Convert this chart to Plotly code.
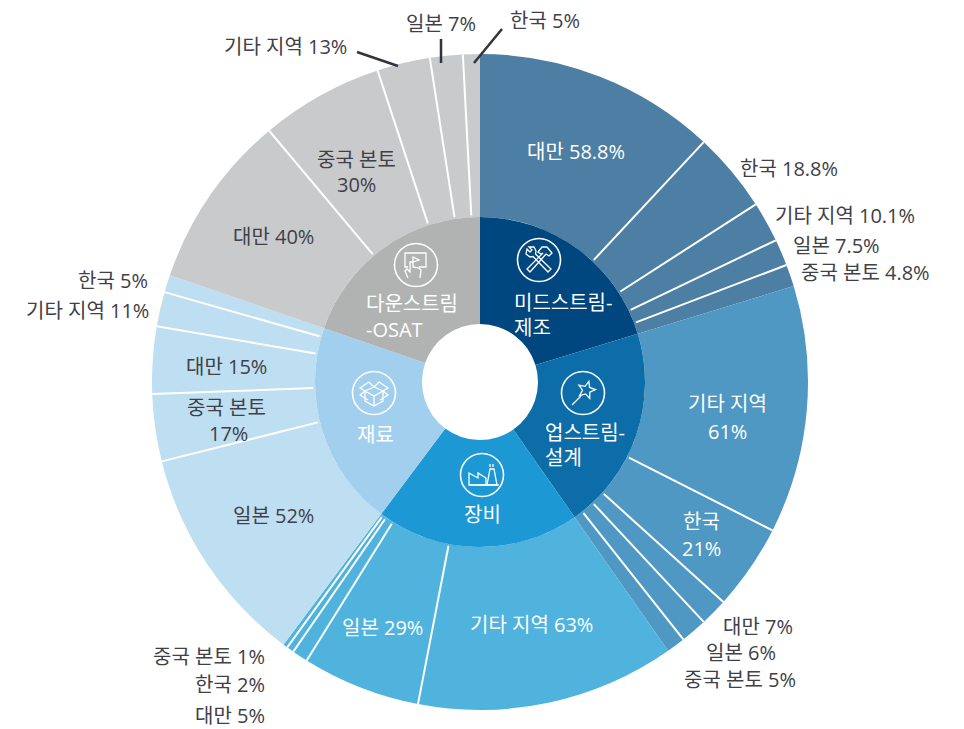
import math
import plotly.graph_objects as go

W, H = 964, 729
CX, CY = 480, 382
R_OUT, R_MID, R_HOLE = 328, 165, 58

# ---- data ----
groups = ["미드스트림-제조", "업스트림-설계", "장비", "재료", "다운스트림-OSAT"]
group_colors = ["#00467F", "#0D6DA9", "#1C98D4", "#A3CFEE", "#B1B3B3"]
ring_colors = ["#4D7EA3", "#4F98C3", "#4FB3DD", "#BEDEF2", "#C9CACC"]

# slice labels, and each slice's size (degrees of arc)
mid_labels = ["대만 58.8%", "한국 18.8%", "기타 지역 10.1%", "일본 7.5%", "중국 본토 4.8%"]
mid_arcs = [43.0, 14.2, 7.2, 4.7, 3.9]
up_labels = ["기타 지역 61%", "한국 21%", "대만 7%", "일본 6%", "중국 본토 5%"]
up_arcs = [43.9, 15.2, 4.9, 4.7, 3.3]
eq_labels = ["기타 지역 63%", "일본 29%", "대만 5%", "한국 2%", "중국 본토 1%"]
eq_arcs = [45.9, 21.0, 2.8, 1.3, 0.8]
mat_labels = ["일본 52%", "중국 본토 17%", "대만 15%", "기타 지역 11%", "한국 5%"]
mat_arcs = [39.2, 11.9, 11.9, 6.1, 3.1]
down_labels = ["대만 40%", "중국 본토 30%", "기타 지역 13%", "일본 7%", "한국 5%"]
down_arcs = [31.0, 21.8, 9.4, 5.8, 3.0]

all_arcs = [mid_arcs, up_arcs, eq_arcs, mat_arcs, down_arcs]
all_labels = [mid_labels, up_labels, eq_labels, mat_labels, down_labels]

# text, centre x, centre y, colour
DARK = "#404048"
WHITE = "#FFFFFF"
ring_text = [
    ("대만 58.8%", 576, 152, WHITE), ("한국 18.8%", 789, 168, DARK),
    ("기타 지역 10.1%", 845, 215, DARK), ("일본 7.5%", 836, 245, DARK),
    ("중국 본토 4.8%", 865, 273, DARK),
    ("기타 지역", 727, 404, WHITE), ("61%", 727, 431, WHITE),
    ("한국", 701, 521, WHITE), ("21%", 701, 548, WHITE),
    ("대만 7%", 758, 626, DARK), ("일본 6%", 741, 652, DARK), ("중국 본토 5%", 740, 679, DARK),
    ("기타 지역 63%", 531, 624, WHITE), ("일본 29%", 382, 627, WHITE),
    ("중국 본토 1%", 209, 656, DARK), ("한국 2%", 230, 684, DARK), ("대만 5%", 230, 715, DARK),
    ("일본 52%", 273, 515, DARK), ("중국 본토", 226, 407, DARK), ("17%", 228, 433, DARK),
    ("대만 15%", 226, 366, DARK), ("기타 지역 11%", 87, 310, DARK), ("한국 5%", 113, 280, DARK),
    ("대만 40%", 273, 237, DARK), ("중국 본토", 356, 159, DARK), ("30%", 356, 184, DARK),
    ("기타 지역 13%", 285, 47, DARK), ("일본 7%", 441, 23, DARK), ("한국 5%", 545, 20, DARK),
]
centre_text = [
    ("미드스트림-", 512, 302, "left"), ("제조", 512, 327, "left"),
    ("업스트림-", 543, 432, "left"), ("설계", 543, 457, "left"),
    ("장비", 482, 514, "center"), ("재료", 375, 434, "center"),
    ("다운스트림", 364, 304, "left"), ("-OSAT", 364, 330, "left"),
]
leaders = [((357, 52), (398, 66)), ((441, 39), (441, 63)), ((502, 29), (474, 63))]
icon_centres = [(539, 260), (583, 393), (482, 475), (374, 393), (416, 265)]


def px(x):
    return x / W


def py(y):
    return 1 - y / H


def path(points, closed=False):
    s = "M " + " L ".join(f"{px(x):.5f},{py(y):.5f}" for x, y in points)
    return s + (" Z" if closed else "")


def icon_shape(c, pts, closed=True, width=1.3):
    return dict(type="path", xref="paper", yref="paper",
                path=path([(c[0] + x, c[1] + y) for x, y in pts], closed),
                line=dict(color="white", width=width), fillcolor="rgba(0,0,0,0)")


def star(cx, cy, r1, r2, rot):
    pts = []
    for i in range(10):
        r = r1 if i % 2 == 0 else r2
        a = math.radians(rot + i * 36)
        pts.append((cx + r * math.sin(a), cy - r * math.cos(a)))
    return pts


icons = [
    [  # tools
        ([(-12, -11), (-9, -8), (-7, -10), (-10, -13), (-5, -13), (-3, -9), (-3.5, -6), (12, 9), (9, 12),
          (-6, -3.5), (-9, -3), (-13, -6)], True),
        ([(-1, -8), (3, -13), (8, -13), (13, -7), (10, -4), (7, -6), (-9, 12), (-12, 9), (4, -7), (2, -6)], True),
    ],
    [  # wand
        (star(3.5, -3, 9, 4, 15), True),
        ([(-2, 3), (-11, 12)], False),
    ],
    [  # factory
        ([(-13, 10), (-13, -2), (-4, 3), (-4, -2), (4, 3), (4, 10)], True),
        ([(5, 10), (8, -6), (12, -6), (15, 10)], True),
        ([(-13, 10), (17, 10)], False),
        ([(8, -11), (8, -8)], False),
        ([(11, -11), (11, -8)], False),
    ],
    [  # box
        ([(-9, -2), (0, -6), (9, -2), (0, 3)], True),
        ([(-9, -2), (-9, 8), (0, 13), (9, 8), (9, -2)], False),
        ([(0, 3), (0, 13)], False),
        ([(-9, -2), (-14, -5), (-5, -11), (0, -6), (5, -11), (14, -5), (9, -2)], False),
        ([(-9, -2), (-14, 2), (-6, 7)], False),
        ([(9, -2), (14, 2), (6, 7)], False),
    ],
    [  # screen and hand
        ([(-8, 2), (-11, 2), (-11, -12), (10, -12), (10, 2), (3, 2)], False),
        ([(-3, -8), (3, -5), (-3, -3)], True),
        ([(-8, 13), (-11, 6), (-9, 4), (-6, 7), (-6, -3), (-3, -3), (-3, 2), (3, 3), (5, 5), (4, 13)], False),
    ],
]

fig = go.Figure()
dom_x = lambda r: [px(CX - r), px(CX + r)]
dom_y = lambda r: [py(CY + r), py(CY - r)]

ring_vals, ring_cols, ring_labs = [], [], []
for arcs, labs, col, grp in zip(all_arcs, all_labels, ring_colors, groups):
    ring_vals += arcs
    ring_labs += [f"{grp} · {lab}" for lab in labs]
    ring_cols += [col] * len(arcs)
group_totals = [sum(a) for a in all_arcs]

fig.add_trace(go.Pie(values=ring_vals, labels=ring_labs, sort=False, direction="clockwise",
                     rotation=0, hole=R_MID / R_OUT, textinfo="none", hoverinfo="label",
                     marker=dict(colors=ring_cols, line=dict(width=0)),
                     domain=dict(x=dom_x(R_OUT), y=dom_y(R_OUT)), showlegend=False))
fig.add_trace(go.Pie(values=group_totals, labels=groups, sort=False, direction="clockwise",
                     rotation=0, hole=R_HOLE / R_MID, textinfo="none", hoverinfo="label",
                     marker=dict(colors=group_colors, line=dict(width=0)),
                     domain=dict(x=dom_x(R_MID), y=dom_y(R_MID)), showlegend=False))

shapes = []
# separators inside each group, derived from the slice sizes
total = sum(group_totals)
cum = 0
for arcs in all_arcs:
    for i, v in enumerate(arcs):
        cum += v
        if i == len(arcs) - 1:
            continue
        a = math.radians(cum / total * 360)
        p1 = (CX + (R_MID + 2) * math.sin(a), CY - (R_MID + 2) * math.cos(a))
        p2 = (CX + R_OUT * math.sin(a), CY - R_OUT * math.cos(a))
        shapes.append(dict(type="path", xref="paper", yref="paper", path=path([p1, p2]),
                           line=dict(color="white", width=2)))

for p1, p2 in leaders:
    shapes.append(dict(type="path", xref="paper", yref="paper", path=path([p1, p2]),
                       line=dict(color="#33333F", width=2.5)))

for c, parts in zip(icon_centres, icons):
    r = 21.5
    shapes.append(dict(type="circle", xref="paper", yref="paper",
                       x0=px(c[0] - r), x1=px(c[0] + r), y0=py(c[1] + r), y1=py(c[1] - r),
                       line=dict(color="white", width=1.6)))
    for pts, closed in parts:
        shapes.append(icon_shape(c, pts, closed))

FONT = "Open Sans, Noto Sans CJK KR, sans-serif"
ann = []
for t, x, y, col in ring_text:
    ann.append(dict(text=t, x=px(x), y=py(y), xref="paper", yref="paper", showarrow=False,
                    xanchor="center", yanchor="middle", font=dict(family=FONT, size=20, color=col)))
for t, x, y, al in centre_text:
    ann.append(dict(text=t, x=px(x), y=py(y), xref="paper", yref="paper", showarrow=False,
                    xanchor=al, yanchor="middle", font=dict(family=FONT, size=20, color="white")))

fig.update_layout(width=W, height=H, margin=dict(l=0, r=0, t=0, b=0), paper_bgcolor="white",
                  shapes=shapes, annotations=ann, showlegend=False)
fig.write_html("out.html", post_script="document.body.style.margin='0';",
               config=dict(displayModeBar=False))
